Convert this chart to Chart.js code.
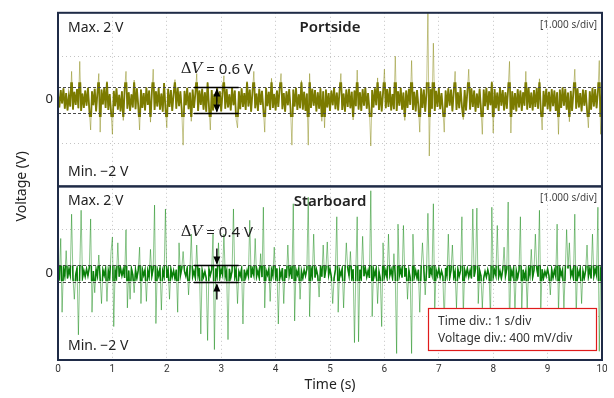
<!DOCTYPE html>
<html>
<head>
<meta charset="utf-8">
<script src="https://cdn.jsdelivr.net/npm/chart.js@4.4.1/dist/chart.umd.min.js"></script>
<style>
  html, body { margin: 0; padding: 0; background: #ffffff; }
  #wrap { width: 614px; height: 398px; position: relative; }
</style>
</head>
<body>
<div id="wrap"><canvas id="c" width="614" height="398"></canvas></div>
<script>
// ---------------- data ----------------
const sampleIntervalS = 0.025;          // one sample every 25 ms, 0 … 10 s
const timeTicks = [0, 1, 2, 3, 4, 5, 6, 7, 8, 9, 10];
const panelTitles = ['Portside', 'Starboard'];
const voltageRange = [-2, 2];            // Max. 2 V / Min. −2 V
const portsideDeltaV = 0.6;
const starboardDeltaV = 0.4;
const infoLines = ['Time div.: 1 s/div', 'Voltage div.: 400 mV/div'];

// Portside trace, millivolts
const portsideMv = [
  120,-180,220,-90,260,-210,150,-250,90,-160,650,-230,180,-120,240,-200,880,-260,140,-190,
  210,-140,270,-220,-700,190,-130,250,-270,160,600,-750,230,-110,280,-190,420,-240,130,-280,
  -800,200,-150,260,-230,110,-270,190,-480,240,650,-210,170,-260,120,-180,450,-220,260,-140,
  -700,230,-190,150,-250,280,-120,210,-520,170,700,-240,190,-160,270,-230,140,-280,380,-200,
  -650,250,-170,220,-260,130,460,-210,280,-150,190,-240,-1050,200,-130,270,-220,160,-500,230,
  -190,140,600,-260,210,-120,250,-230,170,-280,400,-160,-700,220,-250,130,-200,270,-140,190,
  -270,160,550,-210,240,-180,120,-250,280,-130,210,-460,-650,190,-220,260,-170,150,-240,420,
  -160,230,-280,170,650,-200,140,-260,250,-120,200,-230,-750,270,-150,180,-240,490,-190,130,
  -250,210,-170,260,600,-220,150,-280,190,-130,240,-210,-1050,230,-160,270,-240,120,-200,440,
  -230,180,-260,140,-1050,600,-190,250,-140,220,-270,170,-210,260,-500,190,-650,230,-180,150,
  -260,210,-130,270,-220,160,-250,190,600,-240,140,-280,230,-170,250,-200,180,-470,210,-150,
  680,-230,170,-260,240,-140,280,-210,150,-250,-1070,220,-180,260,-130,500,-240,190,-270,160,
  700,-200,240,-170,280,-250,130,-220,1000,-260,190,-140,270,-230,160,-480,210,-190,250,-120,
  900,-240,180,-270,220,-150,-750,260,-190,230,-280,170,2000,-1300,240,-210,1300,-260,200,-170,
  270,-220,150,-250,-750,210,-180,260,-140,230,-270,190,650,-240,170,-200,280,-160,-460,220,
  -250,180,700,-230,260,-170,210,-280,140,-190,250,-220,-800,230,-150,270,-240,190,-130,420,
  -770,240,-200,160,-260,280,-140,220,-250,170,-210,260,880,-770,190,-230,150,-270,240,-180,
  210,-260,170,-140,650,-230,280,-190,160,-250,220,-170,270,-210,480,-240,-700,200,-160,250,
  -220,180,-270,240,-150,210,-260,170,-800,230,-190,280,-140,250,-230,160,-510,200,-260,190,
  700,-210,260,-180,150,-270,230,-140,220,-250,-650,190,-230,270,-160,240,-200,180,900,-800,
  230
];

// Starboard trace, millivolts
const starboardMv = [
  60,-90,800,-900,110,-70,520,-120,90,-50,1360,-100,-600,-40,120,-1420,80,1450,-110,60,
  -80,100,-60,130,1250,-900,50,-450,90,-70,420,-130,-700,80,-50,110,-650,60,-120,500,
  830,-1230,70,-100,700,-80,120,-60,90,-110,1000,-800,60,-600,110,-40,-450,80,-120,70,
  600,-700,100,-50,80,-650,60,-90,550,-70,110,1570,-1160,90,-60,120,-850,50,-80,1480,
  -110,70,-600,100,-90,60,-130,80,-900,700,-60,110,500,40,-70,120,-500,60,900,-80,
  50,-110,650,-60,120,-1400,70,-90,40,-120,-1550,100,-50,80,900,-1760,110,-70,700,-100,
  90,-40,900,-80,60,-1530,100,-110,50,1480,-90,70,-700,40,-60,110,-1170,80,-100,60,
  -70,1220,-100,90,-50,800,-80,60,-110,450,-90,1520,-800,70,-40,100,-650,80,-60,600,
  -90,110,-1170,60,-80,120,-700,90,-110,650,-60,100,-130,1600,-1100,80,-40,110,-600,50,
  -120,80,-60,100,1750,-1000,110,-70,900,-100,90,-60,-550,120,-80,650,-110,90,720,-50,
  100,-90,-700,-120,80,1300,-900,70,-50,110,-800,40,700,120,-60,500,-110,90,-1600,60,
  1300,-1580,80,-100,850,-70,120,-90,60,-110,1900,-1000,90,-60,110,-700,40,-120,-1230,700,
  -90,60,-110,900,-50,80,-120,450,-70,-1850,1130,-60,90,-100,1100,-80,120,-600,70,-110,
  -1850,900,-90,60,-120,80,-900,110,700,100,-500,60,1380,-110,90,-40,1600,-900,80,-60,
  110,-100,50,-80,-1150,120,-60,900,-110,70,650,-90,40,-800,100,-70,60,1300,-1000,80,
  -50,110,-90,60,-120,1480,-80,100,1500,-700,70,-60,-800,-110,40,-90,80,-50,-1070,1520,
  -100,70,-60,1100,-90,50,-120,80,600,-70,100,1640,-1300,90,-50,120,-900,60,-110,70,
  1300,-900,80,-110,60,-800,120,-50,550,-100,70,900,110,-80,1450,-800,90,-120,40,-70,
  100,-60,-500,90,-110,70,-80,1130,-900,120,-50,80,-800,60,1000,110,700,-70,50,-120,
  1360,-1000,80,-60,110,-700,50,-110,70,650,-80,100,-120,900,-70,90,-50,1520,-1800,80,
  -60
];

// ---------------- build ----------------
const timeS = portsideMv.map((_, i) => +(i * sampleIntervalS).toFixed(3));
const toPoints = (mv) => mv.map((v, i) => ({ x: timeS[i], y: v / 1000 }));

const SANS = '"Noto Sans", "DejaVu Sans", sans-serif';
const INK = '#222222';
const FRAME = '#1f2b47';

const gridColor = (ctx) => (Math.abs(ctx.tick.value) === 1 ? '#c4c4c4' : 'rgba(0,0,0,0)');

function yScale(weight) {
  return {
    type: 'linear', position: 'left', stack: 'panels', stackWeight: 1, weight: weight,
    min: voltageRange[0], max: voltageRange[1],
    ticks: { stepSize: 1, autoSkip: false, padding: 5, color: INK,
             font: { family: SANS, size: 13 },
             callback: (v) => (v === 0 ? '0' : '') },
    grid: { color: gridColor, drawTicks: false, lineWidth: 1 },
    border: { display: false, dash: [1, 3] },
    afterFit: (s) => { s.width = 58; }
  };
}

// the dense core of each trace is drawn darker, restricted to a band round 0 V
const coreClip = {
  id: 'coreClip',
  beforeDatasetDraw(chart, args) {
    const ds = chart.data.datasets[args.index];
    if (!ds.coreBand) return;
    const s = chart.scales[ds.yAxisID], ca = chart.chartArea;
    const y0 = s.getPixelForValue(ds.coreBand), y1 = s.getPixelForValue(-ds.coreBand);
    chart.ctx.save();
    chart.ctx.beginPath();
    chart.ctx.rect(ca.left, y0, ca.right - ca.left, y1 - y0);
    chart.ctx.clip();
  },
  afterDatasetDraw(chart, args) {
    const ds = chart.data.datasets[args.index];
    if (ds.coreBand) chart.ctx.restore();
  }
};

const overlay = {
  id: 'overlay',
  afterDatasetsDraw(chart) {
    const c = chart.ctx, x = chart.scales.x, ca = chart.chartArea;
    const panels = [
      { s: chart.scales.yPort, dv: portsideDeltaV, title: panelTitles[0], inward: false },
      { s: chart.scales.yStar, dv: starboardDeltaV, title: panelTitles[1], inward: true }
    ];
    c.save();
    // dashed reference lines at ±ΔV/2
    panels.forEach(p => {
      c.strokeStyle = '#4a4a4a'; c.lineWidth = 1; c.setLineDash([3, 2]);
      [p.dv / 2, -p.dv / 2].forEach(v => {
        const y = Math.round(p.s.getPixelForValue(v)) + 0.5;
        c.beginPath(); c.moveTo(ca.left, y); c.lineTo(ca.right, y); c.stroke();
      });
    });
    c.setLineDash([]);

    // ΔV markers
    const xa = x.getPixelForValue(2.5), xb = x.getPixelForValue(3.32), xm = x.getPixelForValue(2.92);
    panels.forEach(p => {
      const yT = Math.round(p.s.getPixelForValue(p.dv / 2)) + 0.5;
      const yB = Math.round(p.s.getPixelForValue(-p.dv / 2)) + 0.5;
      c.strokeStyle = '#000'; c.fillStyle = '#000'; c.lineWidth = 1.4;
      [yT, yB].forEach(y => { c.beginPath(); c.moveTo(xa, y); c.lineTo(xb, y); c.stroke(); });
      const head = (tipY, dir) => { // dir: +1 pointing down, -1 pointing up
        c.beginPath(); c.moveTo(xm, tipY); c.lineTo(xm - 3.5, tipY - dir * 8); c.lineTo(xm + 3.5, tipY - dir * 8); c.closePath(); c.fill();
      };
      if (!p.inward) {
        c.beginPath(); c.moveTo(xm, yT + 2); c.lineTo(xm, yB - 2); c.stroke();
        head(yT + 1, -1); head(yB - 1, 1);
      } else {
        c.beginPath(); c.moveTo(xm, yT - 17); c.lineTo(xm, yT - 2); c.stroke();
        c.beginPath(); c.moveTo(xm, yB + 17); c.lineTo(xm, yB + 2); c.stroke();
        head(yT - 1, 1); head(yB + 1, -1);
      }
      // label ΔV = …
      const ly = yT - (p.inward ? 33 : 18);
      const part1 = 'Δ', part2 = 'V', part3 = ' = ' + p.dv.toFixed(1) + ' V';
      c.textBaseline = 'middle';
      c.font = '15px "DejaVu Serif", serif'; const w1 = c.measureText(part1).width;
      c.font = 'italic 15px "DejaVu Serif", serif'; const w2 = c.measureText(part2).width;
      c.font = '15px ' + SANS; const w3 = c.measureText(part3).width;
      let sx = xm - (w1 + w2 + w3) / 2;
      c.fillStyle = INK; c.textAlign = 'left';
      c.font = '15px "DejaVu Serif", serif'; c.fillText(part1, sx, ly); sx += w1;
      c.font = 'italic 15px "DejaVu Serif", serif'; c.fillText(part2, sx, ly); sx += w2;
      c.font = '15px ' + SANS; c.fillText(part3, sx, ly);
    });

    // panel frames
    c.strokeStyle = FRAME; c.lineWidth = 2;
    panels.forEach(p => {
      c.strokeRect(ca.left, p.s.top, ca.right - ca.left, p.s.bottom - p.s.top);
    });

    // panel texts
    panels.forEach(p => {
      c.fillStyle = INK; c.textBaseline = 'middle';
      c.font = '14px ' + SANS; c.textAlign = 'left';
      c.fillText('Max. ' + voltageRange[1] + ' V', ca.left + 10, p.s.top + 15);
      c.fillText('Min. \u2212' + Math.abs(voltageRange[0]) + ' V', ca.left + 10, p.s.bottom - 14);
      c.font = '600 15px ' + SANS; c.textAlign = 'center';
      c.fillText(p.title, (ca.left + ca.right) / 2, p.s.top + 15);
      c.font = '10px ' + SANS; c.textAlign = 'right'; c.fillStyle = '#444';
      c.fillText('[1.000 s/div]', ca.right - 5, p.s.top + 12);
    });

    // info box
    const bx = ca.right - 174, by = ca.bottom - 52, bw = 168, bh = 42;
    c.fillStyle = '#ffffff'; c.fillRect(bx, by, bw, bh);
    c.strokeStyle = '#e01b1b'; c.lineWidth = 1.2; c.strokeRect(bx + 0.5, by + 0.5, bw, bh);
    c.fillStyle = '#333'; c.font = '12px ' + SANS; c.textAlign = 'left'; c.textBaseline = 'middle';
    c.fillText(infoLines[0], bx + 10, by + 14);
    c.fillText(infoLines[1], bx + 10, by + 31);

    // y title
    c.save();
    c.translate(22, (ca.top + ca.bottom) / 2); c.rotate(-Math.PI / 2);
    c.font = '14px ' + SANS; c.textAlign = 'center'; c.fillStyle = INK;
    c.fillText('Voltage (V)', 0, 0);
    c.restore();
    c.restore();
  }
};

const portsidePoints = toPoints(portsideMv);
const starboardPoints = toPoints(starboardMv);

new Chart(document.getElementById('c'), {
  type: 'line',
  data: {
    datasets: [
      { label: panelTitles[0], data: portsidePoints, yAxisID: 'yPort', order: 1,
        borderWidth: 1, pointRadius: 0, tension: 0, borderColor: 'rgba(128,128,0,0.45)' },
      { label: panelTitles[0] + ' (core)', data: portsidePoints, yAxisID: 'yPort', order: 0,
        coreBand: 0.4, borderWidth: 1.8, pointRadius: 0, tension: 0, borderColor: '#7b7b00' },
      { label: panelTitles[1], data: starboardPoints, yAxisID: 'yStar', order: 1,
        borderWidth: 1, pointRadius: 0, tension: 0, borderColor: 'rgba(0,128,0,0.45)' },
      { label: panelTitles[1] + ' (core)', data: starboardPoints, yAxisID: 'yStar', order: 0,
        coreBand: 0.18, borderWidth: 1.5, pointRadius: 0, tension: 0, borderColor: '#0a800a' }
    ]
  },
  options: {
    responsive: false, animation: false, devicePixelRatio: 1,
    layout: { padding: { top: 10, right: 12, left: 0, bottom: 0 } },
    plugins: { legend: { display: false }, tooltip: { enabled: false } },
    scales: {
      x: {
        type: 'linear', min: 0, max: 10,
        afterBuildTicks: (s) => { s.ticks = timeTicks.map(v => ({ value: v })); },
        ticks: { padding: 3, color: '#333', font: { family: 'Roboto, sans-serif', size: 10 }, maxRotation: 0 },
        grid: { color: (ctx) => (ctx.tick.value === 0 || ctx.tick.value === 10 ? 'rgba(0,0,0,0)' : '#c4c4c4'), drawTicks: false },
        border: { display: false, dash: [1, 3] },
        title: { display: true, text: 'Time (s)', color: INK, font: { family: SANS, size: 14 }, padding: { top: 0, bottom: 5 } },
        afterFit: (s) => { s.height = 38; }
      },
      yPort: yScale(2),
      yStar: yScale(1)
    }
  },
  plugins: [coreClip, overlay]
});
</script>
</body>
</html>
